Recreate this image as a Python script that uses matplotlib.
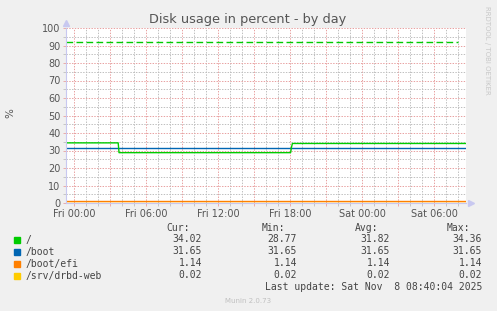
import matplotlib
matplotlib.use("Agg")
import matplotlib.pyplot as plt
from matplotlib.ticker import MultipleLocator

W, H = 497, 311

# hours relative to Fri 00:00
x_start, x_end = -0.67, 32.67
tick_hours = [0, 6, 12, 18, 24, 30]
tick_labels = ["Fri 00:00", "Fri 06:00", "Fri 12:00", "Fri 18:00", "Sat 00:00", "Sat 06:00"]

root_t = [-0.67, 3.68, 3.75, 18.05, 18.13, 18.2, 32.67]
root_v = [34.36, 34.36, 28.77, 28.77, 32.0, 34.02, 34.02]
boot_t = [-0.67, 32.67]
boot_v = [31.65, 31.65]
efi_t = [-0.67, 32.67]
efi_v = [1.14, 1.14]
drbd_t = [-0.67, 32.67]
drbd_v = [0.02, 0.02]
warning = 92

names = ["/", "/boot", "/boot/efi", "/srv/drbd-web"]
colors = ["#00CC00", "#0066B3", "#FF8000", "#FFCC00"]
cur = ["34.02", "31.65", "1.14", "0.02"]
mins = ["28.77", "31.65", "1.14", "0.02"]
avgs = ["31.82", "31.65", "1.14", "0.02"]
maxs = ["34.36", "31.65", "1.14", "0.02"]

plt.rcParams['lines.scale_dashes'] = False

fig = plt.figure(figsize=(W / 100, H / 100), dpi=100, facecolor="#F0F0F0")
ax = fig.add_axes([66 / W, 1 - 203 / H, 400 / W, 175 / H])
ax.set_facecolor("white")

def px(x, y):
    return x / W, 1 - y / H

# grid
ax.set_xlim(x_start, x_end)
ax.set_ylim(0, 100)
ax.xaxis.set_major_locator(MultipleLocator(3))
ax.xaxis.set_minor_locator(MultipleLocator(1))
ax.yaxis.set_major_locator(MultipleLocator(10))
ax.yaxis.set_minor_locator(MultipleLocator(5))
ax.grid(which="minor", color="#BEBEBE", linestyle=(0, (1, 1)), linewidth=0.7)
ax.grid(which="major", color="#E8A0A0", linestyle=(0, (1, 1)), linewidth=0.7)
ax.set_axisbelow(True)

for s in ["top", "right"]:
    ax.spines[s].set_visible(False)
ax.spines["left"].set_color("#C8C8F0")
ax.spines["bottom"].set_color("#C8C8F0")
ax.spines["left"].set_linewidth(0.8)
ax.spines["bottom"].set_linewidth(0.8)
ax.plot([0], [1.03], marker="^", color="#C8C8F0", markersize=4, transform=ax.transAxes, clip_on=False)
ax.plot([1.012], [0], marker=">", color="#C8C8F0", markersize=4, transform=ax.transAxes, clip_on=False)

ax.tick_params(which="both", length=2, width=0.6, labelsize=7, labelcolor="#555555")
ax.tick_params(axis="x", which="major", colors="#E8A0A0", labelcolor="#555555", pad=2)
ax.tick_params(axis="x", which="minor", colors="#BEBEBE")
ax.tick_params(axis="y", which="major", colors="#E8A0A0", labelcolor="#555555", pad=2)
ax.tick_params(axis="y", which="minor", colors="#BEBEBE")

major_x = [h for h in range(0, 33, 3)]
ax.set_xticks(major_x)
ax.set_xticklabels([tick_labels[tick_hours.index(h)] if h in tick_hours else "" for h in major_x])
ax.set_yticks(range(0, 101, 10))

# data
ax.plot(drbd_t, drbd_v, color=colors[3], linewidth=1.0)
ax.plot(efi_t, efi_v, color=colors[2], linewidth=1.0)
ax.plot(boot_t, boot_v, color=colors[1], linewidth=1.0)
ax.plot(root_t, root_v, color=colors[0], linewidth=1.0)
ax.axhline(warning, xmin=0.0, xmax=0.98, color=colors[0], linewidth=1.0, dashes=(4.8, 2.4))

# texts
fig.text(*px(248, 19), "Disk usage in percent - by day", ha="center", va="center",
         fontsize=9.3, color="#555555")
fig.text(*px(10, 113), "%", ha="center", va="center", rotation=90, fontsize=7.5, color="#555555")
fig.text(*px(487, 6), "RRDTOOL / TOBI OETIKER", ha="center", va="top", rotation=270,
         fontsize=5, color="#C8C8C8")
fig.text(*px(248, 301), "Munin 2.0.73", ha="center", va="center", fontsize=5, color="#C0C0C0")

mono = dict(family="DejaVu Sans Mono", fontsize=7, color="#444444", va="center")
col_right = [202, 297, 390, 482]
headers = ["Cur:", "Min:", "Avg:", "Max:"]
for xr, hd in zip(col_right, headers):
    fig.text(*px(xr - 12, 228), hd, ha="right", **mono)
for i, name in enumerate(names):
    y = 239.5 + i * 12
    fig.patches.append(plt.Rectangle(px(14, y + 3), 6 / W, 6 / H, transform=fig.transFigure,
                                     color=colors[i], figure=fig))
    fig.text(*px(26, y), name, ha="left", **mono)
    for xr, vals in zip(col_right, [cur, mins, avgs, maxs]):
        fig.text(*px(xr, y), vals[i], ha="right", **mono)
fig.text(*px(482, 287), "Last update: Sat Nov  8 08:40:04 2025", ha="right", **mono)

fig.savefig("out.png", dpi=100, facecolor=fig.get_facecolor())
